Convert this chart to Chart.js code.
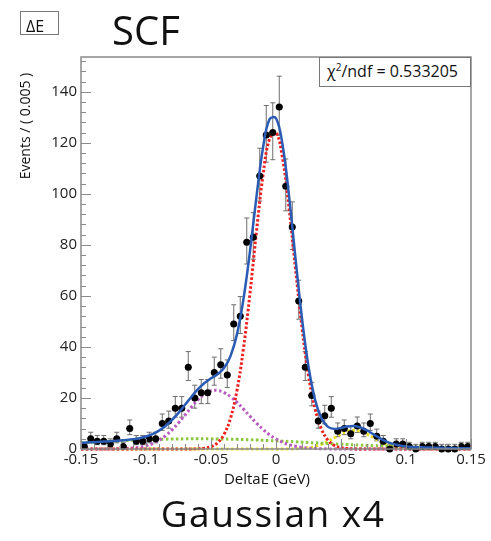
<!DOCTYPE html>
<html>
<head>
<meta charset="utf-8">
<script src="https://cdn.jsdelivr.net/npm/chart.js@4.4.1/dist/chart.umd.min.js"></script>
<style>
  body { margin: 0; background: #fff; }
  #wrap { position: relative; width: 491px; height: 541px; font-family: 'Open Sans', sans-serif; color: #111; }
  #wrap canvas { display: block; }
  #wrap .t { position: absolute; white-space: nowrap; }
</style>
</head>
<body>
<div id="wrap">
  <canvas id="c" width="491" height="541"></canvas>
  <div class="t" style="left:20px;top:11px;width:39px;height:24px;border:1px solid #777;box-sizing:border-box"></div>
  <div class="t" style="left:26px;top:18px;font-size:16px;line-height:16px">ΔE</div>
  <div class="t" style="left:112px;top:9.5px;font-size:40px;line-height:40px">SCF</div>
  <div class="t" style="left:319px;top:57px;width:152px;height:30px;border:1px solid #777;box-sizing:border-box;background:#fff"></div>
  <div class="t" style="left:327px;top:63px;font-size:16px;line-height:16px">χ<sup style="font-size:10px;vertical-align:6px;line-height:0">2</sup>/ndf = 0.533205</div>
  <div class="t" style="left:-45px;top:118.5px;width:140px;text-align:center;font-size:14px;line-height:14px;transform:rotate(-90deg)">Events / ( 0.005 )</div>
  <div class="t" style="left:167px;top:471px;width:200px;text-align:center;font-size:15px;line-height:15px">DeltaE (GeV)</div>
  <div class="t" style="left:0;top:494px;width:546px;text-align:center;font-size:37px;line-height:37px;letter-spacing:1.5px">Gaussian x4</div>
</div>
<script>
// bin centres (bin width 0.005) and counts
const binCenters = [
  -0.1475, -0.1425, -0.1375, -0.1325, -0.1275, -0.1225, -0.1175, -0.1125, -0.1075, -0.1025,
  -0.0975, -0.0925, -0.0875, -0.0825, -0.0775, -0.0725, -0.0675, -0.0625, -0.0575, -0.0525,
  -0.0475, -0.0425, -0.0375, -0.0325, -0.0275, -0.0225, -0.0175, -0.0125, -0.0075, -0.0025,
  0.0025, 0.0075, 0.0125, 0.0175, 0.0225, 0.0275, 0.0325, 0.0375, 0.0425, 0.0475,
  0.0525, 0.0575, 0.0625, 0.0675, 0.0725, 0.0775, 0.0825, 0.0875, 0.0925, 0.0975,
  0.1025, 0.1075, 0.1125, 0.1175, 0.1225, 0.1275, 0.1325, 0.1375, 0.1425, 0.1475
];
const counts = [
  1, 4, 3, 3, 2, 4, 1, 8, 3, 3,
  4, 4, 10, 11, 16, 16, 32, 20, 22, 22,
  30, 33, 29, 49, 52, 81, 83, 107, 123, 124,
  134, 103, 87, 58, 32, 21, 11, 13, 16, 7,
  8, 6, 9, 7, 10, 5, 3, 0, 2, 2,
  1, 0, 1, 1, 1, 0, 0, 0, 1, 1
];

// fit curves sampled every 0.005
const curveX = [
  -0.15, -0.145, -0.14, -0.135, -0.13, -0.125, -0.12, -0.115, -0.11, -0.105,
  -0.1, -0.095, -0.09, -0.085, -0.08, -0.075, -0.07, -0.065, -0.06, -0.055,
  -0.05, -0.045, -0.04, -0.035, -0.03, -0.025, -0.02, -0.015, -0.01, -0.005,
  0, 0.005, 0.01, 0.015, 0.02, 0.025, 0.03, 0.035, 0.04, 0.045,
  0.05, 0.055, 0.06, 0.065, 0.07, 0.075, 0.08, 0.085, 0.09, 0.095,
  0.1, 0.105, 0.11, 0.115, 0.12, 0.125, 0.13, 0.135, 0.14, 0.145, 0.15
];
const totalFit = [
  2.43, 2.56, 2.69, 2.84, 2.98, 3.12, 3.29, 3.51, 3.81, 4.24,
  4.88, 5.84, 7.19, 9.03, 11.37, 14.17, 17.31, 20.48, 23.42, 25.84,
  27.70, 29.30, 31.72, 36.40, 45.02, 58.83, 77.56, 98.97, 118.0, 129.2,
  129.6, 119.3, 99.30, 74.67, 51.13, 32.30, 19.42, 12.01, 8.67, 7.87,
  8.26, 8.84, 8.99, 8.44, 7.26, 5.73, 4.19, 2.91, 1.99, 1.39,
  1.03, 0.82, 0.70, 0.61, 0.54, 0.48, 0.43, 0.38, 0.34, 0.30, 0.26
];
const coreGauss = [
  0, 0, 0, 0, 0, 0, 0, 0, 0, 0,
  0, 0, 0, 0, 0, 0, 0.01, 0.03, 0.10, 0.32,
  0.93, 2.43, 5.70, 12.05, 22.99, 39.5, 61.1, 85.3, 107.2, 121.5,
  124.0, 114.1, 94.6, 70.7, 47.6, 28.9, 15.8, 7.79, 3.46, 1.38,
  0.50, 0.16, 0.05, 0.01, 0, 0, 0, 0, 0, 0,
  0, 0, 0, 0, 0, 0, 0, 0, 0, 0, 0
];
const leftGauss = [
  0, 0, 0, 0.01, 0.02, 0.04, 0.09, 0.19, 0.38, 0.71,
  1.26, 2.13, 3.41, 5.18, 7.47, 10.23, 13.32, 16.46, 19.32, 21.53,
  22.79, 22.93, 22.12, 20.50, 18.25, 15.62, 12.84, 10.14, 7.69, 5.61,
  3.93, 2.64, 1.71, 1.06, 0.63, 0.36, 0.20, 0.11, 0.05, 0.03,
  0.01, 0, 0, 0, 0, 0, 0, 0, 0, 0,
  0, 0, 0, 0, 0, 0, 0, 0, 0, 0, 0
];
const wideGauss = [
  2.43, 2.56, 2.69, 2.83, 2.96, 3.08, 3.20, 3.32, 3.43, 3.53,
  3.62, 3.71, 3.78, 3.85, 3.90, 3.94, 3.98, 3.99, 4.00, 3.99,
  3.98, 3.94, 3.90, 3.85, 3.78, 3.71, 3.62, 3.53, 3.43, 3.32,
  3.20, 3.08, 2.96, 2.83, 2.69, 2.56, 2.43, 2.29, 2.16, 2.03,
  1.90, 1.77, 1.64, 1.52, 1.41, 1.30, 1.19, 1.09, 1.00, 0.91,
  0.82, 0.74, 0.67, 0.60, 0.54, 0.48, 0.43, 0.38, 0.34, 0.30, 0.26
];
const rightGauss = [
  0, 0, 0, 0, 0, 0, 0, 0, 0, 0,
  0, 0, 0, 0, 0, 0, 0, 0, 0, 0,
  0, 0, 0, 0, 0, 0, 0, 0, 0, 0,
  0, 0.01, 0.03, 0.08, 0.21, 0.48, 0.99, 1.82, 3.00, 4.43,
  5.85, 6.91, 7.30, 6.91, 5.85, 4.43, 3.00, 1.82, 0.99, 0.48,
  0.21, 0.08, 0.03, 0.01, 0, 0, 0, 0, 0, 0, 0
];

const xTicks = [-0.15, -0.1, -0.05, 0, 0.05, 0.1, 0.15];
const yTicks = [0, 20, 40, 60, 80, 100, 120, 140];
const xMinorStep = 0.01;
const yMinorStep = 4;
const yMax = 153.6;

// Poisson-style asymmetric errors from the counts
const errHi = counts.map(n => n === 0 ? 1.84 : Math.sqrt(n + 0.25) + 0.5);
const errLo = counts.map(n => n === 0 ? 0 : Math.sqrt(n + 0.25) - 0.5);

const toXY = (xs, ys) => xs.map((x, i) => ({ x: x, y: ys[i] }));

const curve = (label, ys, color, width, dash, order) => ({
  type: 'line',
  label: label,
  data: toXY(curveX, ys),
  borderColor: color,
  borderWidth: width,
  borderDash: dash,
  pointRadius: 0,
  tension: 0.4,
  fill: false,
  clip: 4,
  order: order
});

const errorBars = {
  id: 'errorBars',
  beforeDatasetsDraw(chart) {
    const { ctx, scales: { x, y } } = chart;
    ctx.save();
    ctx.strokeStyle = '#6e6e6e';
    ctx.lineWidth = 1;
    counts.forEach((n, i) => {
      const px = x.getPixelForValue(binCenters[i]);
      const top = y.getPixelForValue(n + errHi[i]);
      const bot = y.getPixelForValue(n - errLo[i]);
      ctx.beginPath();
      ctx.moveTo(px, top); ctx.lineTo(px, bot);
      ctx.moveTo(px - 2.5, top); ctx.lineTo(px + 2.5, top);
      if (errLo[i] > 0) { ctx.moveTo(px - 2.5, bot); ctx.lineTo(px + 2.5, bot); }
      ctx.stroke();
    });
    // horizontal bin-width bars
    ctx.strokeStyle = '#000';
    ctx.lineWidth = 1.5;
    counts.forEach((n, i) => {
      const py = y.getPixelForValue(n);
      ctx.beginPath();
      ctx.moveTo(x.getPixelForValue(binCenters[i] - 0.0025), py);
      ctx.lineTo(x.getPixelForValue(binCenters[i] + 0.0025), py);
      ctx.stroke();
    });
    ctx.restore();
  }
};

const frame = {
  id: 'frame',
  afterDatasetsDraw(chart) {
    const { ctx, chartArea: a, scales: { x, y } } = chart;
    ctx.save();
    ctx.strokeStyle = '#8a8a8a';
    ctx.lineWidth = 1.5;
    ctx.strokeRect(a.left, a.top, a.right - a.left, a.bottom - a.top);
    ctx.beginPath();
    for (let v = 0; v <= yMax; v += yMinorStep) {
      const py = Math.round(y.getPixelForValue(v)) + 0.5;
      const len = v % 20 === 0 ? 10 : 5;
      ctx.moveTo(a.left, py); ctx.lineTo(a.left + len, py);
    }
    for (let k = -15; k <= 15; k++) {
      const px = Math.round(x.getPixelForValue(k * xMinorStep)) + 0.5;
      const len = k % 5 === 0 ? 10 : 5;
      ctx.moveTo(px, a.bottom); ctx.lineTo(px, a.bottom - len);
    }
    ctx.lineWidth = 1;
    ctx.stroke();
    ctx.restore();
  }
};

const tickFont = { family: 'Open Sans', size: 15 };

new Chart(document.getElementById('c'), {
  type: 'scatter',
  data: {
    datasets: [
      curve('Total', totalFit, '#2a5bb5', 2.5, [], 0),
      {
        label: 'Data',
        data: toXY(binCenters, counts),
        pointRadius: 3.5,
        pointBackgroundColor: '#000',
        pointBorderWidth: 0,
        showLine: false,
        clip: false,
        order: 1
      },
      curve('Core', coreGauss, '#f02020', 3, [2.5, 2], 2),
      curve('Left', leftGauss, '#b85abe', 3, [2.5, 2.5], 3),
      curve('Wide', wideGauss, '#8cc83c', 3, [2.5, 2.5], 4),
      curve('Right', rightGauss, '#e8e020', 3, [2.5, 2.5], 5)
    ]
  },
  options: {
    responsive: false,
    animation: false,
    devicePixelRatio: 1,
    layout: { padding: { left: 0, right: 20, top: 57, bottom: 62 } },
    plugins: { legend: { display: false }, tooltip: { enabled: false } },
    scales: {
      x: {
        type: 'linear',
        min: -0.15,
        max: 0.15,
        grid: { display: false, drawTicks: false },
        border: { display: false },
        ticks: { font: tickFont, color: '#222', padding: 2, maxRotation: 0, callback: v => String(v) },
        afterBuildTicks: s => { s.ticks = xTicks.map(v => ({ value: v })); },
        afterFit: s => { s.height = 30; }
      },
      y: {
        min: 0,
        max: yMax,
        grid: { display: false, drawTicks: false },
        border: { display: false },
        ticks: { font: tickFont, color: '#222', padding: 4, callback: v => String(v) },
        afterBuildTicks: s => { s.ticks = yTicks.map(v => ({ value: v })); },
        afterFit: s => { s.width = 81; }
      }
    }
  },
  plugins: [errorBars, frame]
});
</script>
</body>
</html>
